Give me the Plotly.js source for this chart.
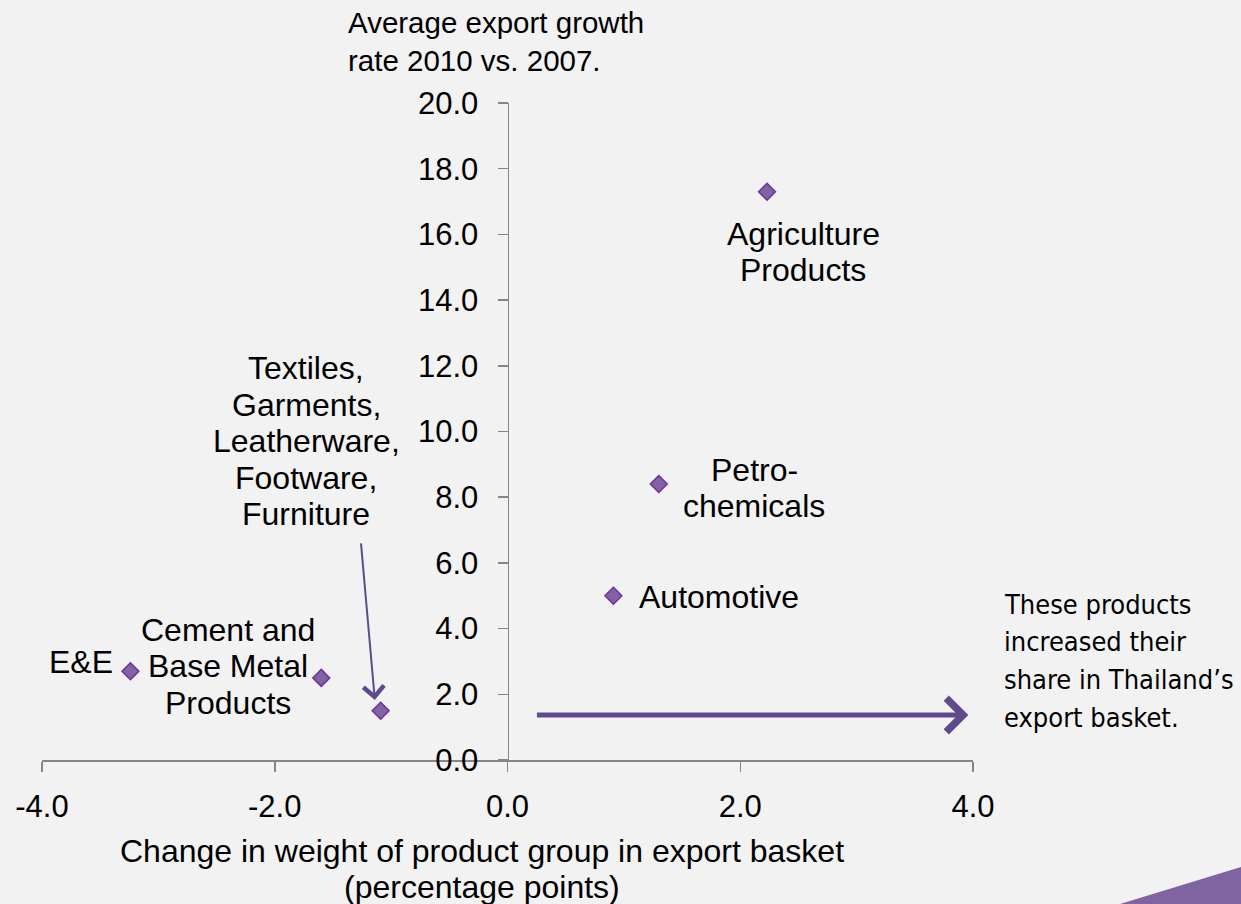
<!DOCTYPE html>
<html>
<head>
<meta charset="utf-8">
<script src="https://cdn.plot.ly/plotly-3.0.1.min.js"></script>
<style>html,body{margin:0;padding:0;background:#f2f2f2;}#chart{width:1241px;height:904px;}</style>
</head>
<body>
<div id="chart"></div>
<script>
// Data
const products = ["Agriculture Products", "Petro-chemicals", "Automotive", "E&E", "Cement and Base Metal Products", "Textiles, Garments, Leatherware, Footware, Furniture"];
const weightChange = [2.23, 1.30, 0.91, -3.24, -1.60, -1.09];
const growthRate = [17.3, 8.4, 5.0, 2.7, 2.5, 1.5];
const xTicks = [-4, -2, 0, 2, 4];
const yTicks = [0, 2, 4, 6, 8, 10, 12, 14, 16, 18, 20];

// Label text (line by line)
const labelLines = [
  ["Agriculture", "Products"],
  ["Petro-", "chemicals"],
  ["Automotive"],
  ["E&amp;E"],
  ["Cement and", "Base Metal", "Products"],
  ["Textiles,", "Garments,", "Leatherware,", "Footware,", "Furniture"]
];
const yTitleLines = ["Average export growth", "rate 2010 vs. 2007."];
const xTitleLines = ["Change in weight of product group in export basket", "(percentage points)"];
const noteLines = ["These products", "increased their", "share in Thailand’s", "export basket."];

const FONT = "Liberation Sans, Arial, sans-serif";
const NOTE_FONT = "DejaVu Sans Condensed, Liberation Sans Narrow, sans-serif";
const purpleDark = "#5f4b8b";

const trace = {
  type: "scatter",
  mode: "markers",
  x: weightChange,
  y: growthRate,
  text: products,
  hoverinfo: "text",
  marker: {symbol: "diamond", size: 13, color: "#8064a2", line: {color: "#7030a0", width: 1.5}},
  showlegend: false
};

const annotations = [];
function addBlock(lines, x, y, xref, yref, xanchor, spacing, font) {
  const n = lines.length;
  lines.forEach((t, i) => {
    annotations.push({
      x: x, y: y, xref: xref, yref: yref, xanchor: xanchor, yanchor: "middle",
      yshift: ((n - 1) / 2 - i) * spacing, text: t, showarrow: false, font: font
    });
  });
}

const labelFont = {family: FONT, size: 32, color: "#000"};
// label anchor positions (data coords)
const labelPos = [
  [2.54, 15.46, "center"],
  [2.12, 8.28, "center"],
  [1.115, 4.96, "left"],
  [-3.37, 2.98, "right"],
  [-2.40, 2.86, "center"],
  [-1.73, 9.71, "center"]
];
labelLines.forEach((lines, k) => {
  addBlock(lines, labelPos[k][0], labelPos[k][1], "x", "y", labelPos[k][2], 36.5, labelFont);
});

addBlock(yTitleLines, 0.3266, 1.094, "paper", "paper", "left", 38, {family: FONT, size: 29.5, color: "#000"});
addBlock(xTitleLines, 0.4726, -0.166, "paper", "paper", "center", 36, {family: FONT, size: 32, color: "#000"});
addBlock(noteLines, 1.0315, 0.151, "paper", "paper", "left", 37.7, {family: NOTE_FONT, size: 27, color: "#000"});

// Arrow to textiles point
annotations.push({x: -1.14, y: 1.83, xref: "x", yref: "y", ax: -1.26, ay: 6.64, axref: "x", ayref: "y", text: "", showarrow: true, arrowhead: 4, arrowsize: 2, arrowwidth: 2, arrowcolor: purpleDark});
// Big horizontal arrow
annotations.push({x: 3.96, y: 1.37, xref: "x", yref: "y", ax: 0.24, ay: 1.37, axref: "x", ayref: "y", text: "", showarrow: true, arrowhead: 4, arrowsize: 1.3, arrowwidth: 5, arrowcolor: purpleDark});

const layout = {
  width: 1241,
  height: 904,
  paper_bgcolor: "#f2f2f2",
  plot_bgcolor: "#f2f2f2",
  margin: {l: 42, r: 268, t: 103, b: 144},
  showlegend: false,
  xaxis: {
    range: [-4, 4], tickvals: xTicks, ticktext: xTicks.map(v => v.toFixed(1)),
    showgrid: false, zeroline: false, showline: true, linecolor: "#868686", linewidth: 1.5,
    ticks: "outside", ticklen: 10, tickcolor: "#868686", tickwidth: 1.5, ticklabelstandoff: 8,
    tickfont: {family: FONT, size: 31, color: "#000"}
  },
  yaxis: {
    range: [0, 20], tickvals: yTicks, ticktext: yTicks.map(v => v.toFixed(1)),
    anchor: "free", position: 0.5,
    showgrid: false, zeroline: false, showline: true, linecolor: "#868686", linewidth: 1.5,
    ticks: "outside", ticklen: 10, tickcolor: "#868686", tickwidth: 1.5, ticklabelstandoff: 13,
    tickfont: {family: FONT, size: 31, color: "#000"}
  },
  annotations: annotations,
  shapes: [
    {type: "path", xref: "paper", yref: "paper", path: "M 1.1579 -0.2192 L 1.2879 -0.1629 L 1.2879 -0.2192 Z", fillcolor: "#8064a2", line: {width: 0}, layer: "above"}
  ]
};

Plotly.newPlot("chart", [trace], layout, {displayModeBar: false, staticPlot: true});
</script>
</body>
</html>
